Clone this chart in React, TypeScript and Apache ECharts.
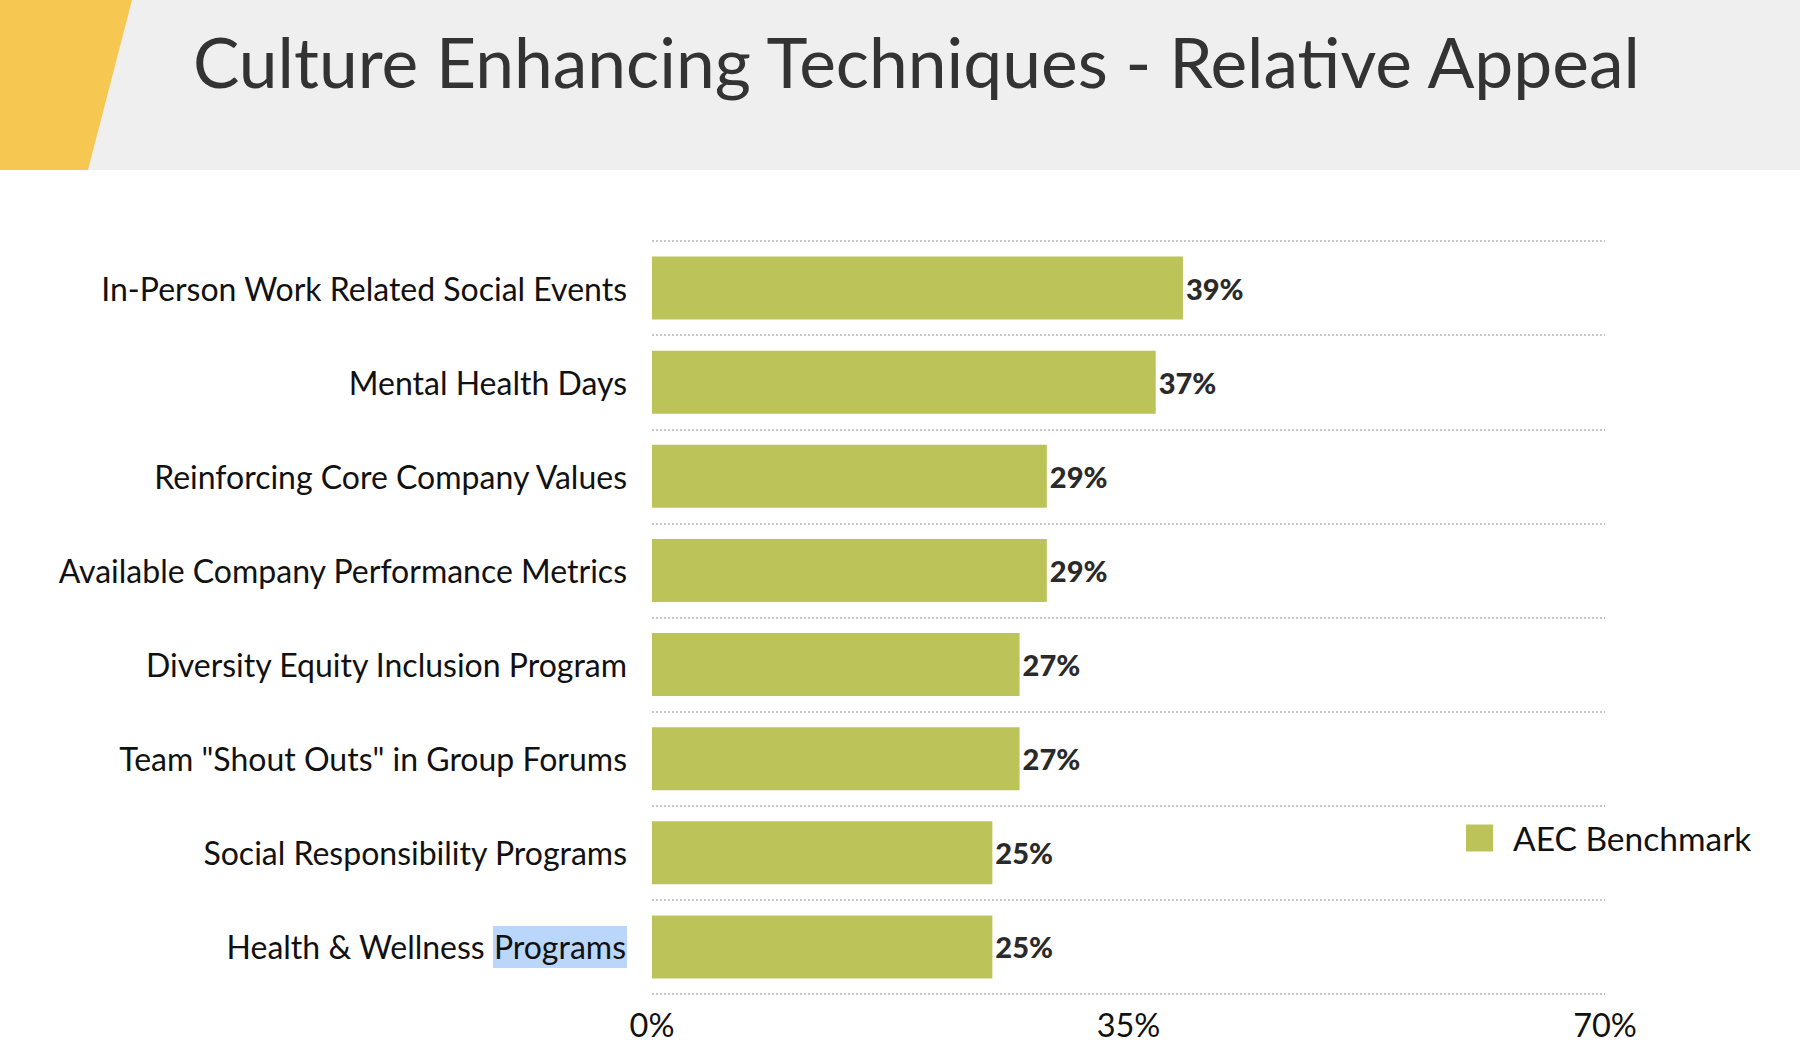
import React, { useEffect, useRef } from "react";
import * as echarts from "echarts";

const categories = [
  "In-Person Work Related Social Events",
  "Mental Health Days",
  "Reinforcing Core Company Values",
  "Available Company Performance Metrics",
  "Diversity Equity Inclusion Program",
  'Team "Shout Outs" in Group Forums',
  "Social Responsibility Programs",
  "Health & Wellness Programs",
];
const benchmarkValues = [39, 37, 29, 29, 27, 27, 25, 25];
const seriesName = "AEC Benchmark";
const titleText = "Culture Enhancing Techniques - Relative Appeal";
const axisMin = 0;
const axisMax = 70;
const axisInterval = 35;

const FONT = "Lato, 'Open Sans', sans-serif";

export default function App() {
  const ref = useRef<HTMLDivElement>(null);
  useEffect(() => {
    document.body.style.margin = "0";
    if (!ref.current) return;
    const chart = echarts.init(ref.current, null, { renderer: "svg" });
    chart.setOption({
      animation: false,
      backgroundColor: "#ffffff",
      textStyle: { fontFamily: FONT },
      graphic: [
        {
          type: "rect",
          shape: { x: 0, y: 0, width: 1800, height: 170 },
          style: { fill: "#efefef" },
          z: 0,
        },
        {
          type: "polygon",
          shape: { points: [[0, 0], [132, 0], [88, 170], [0, 170]] },
          style: { fill: "#f6c852" },
          z: 1,
        },
        {
          type: "text",
          x: 193,
          y: 61,
          style: {
            text: titleText,
            fontSize: 69.5,
            fontFamily: FONT,
            fill: "#333333",
            verticalAlign: "middle",
            align: "left",
          },
          z: 2,
        },
      ],
      legend: {
        data: [seriesName],
        left: 1461,
        top: 816,
        icon: "rect",
        itemWidth: 27,
        itemHeight: 27,
        itemGap: 20,
        textStyle: { fontSize: 33.5, color: "#111111", fontFamily: FONT, padding: [0, 0, 0, 15] },
      },
      grid: { left: 652, right: 195, top: 241, bottom: 52, containLabel: false },
      xAxis: {
        type: "value",
        min: axisMin,
        max: axisMax,
        interval: axisInterval,
        axisLine: { show: false },
        axisTick: { show: false },
        splitLine: { show: false },
        axisLabel: {
          formatter: "{value}%",
          fontSize: 32.5,
          color: "#111111",
          fontFamily: FONT,
          margin: 14,
        },
      },
      yAxis: {
        type: "category",
        data: categories,
        inverse: true,
        axisLine: { show: false },
        axisTick: { show: false },
        splitLine: {
          show: true,
          interval: 0,
          lineStyle: { color: "#b5b5b5", type: [2, 2], width: 1.5 },
        },
        axisLabel: {
          fontSize: 32,
          color: "#111111",
          fontFamily: FONT,
          margin: 25,
          formatter: (v: string) =>
            v === "Health & Wellness Programs" ? "Health & Wellness {hl|Programs}" : v,
          rich: {
            hl: {
              fontSize: 32,
              color: "#111111",
              fontFamily: FONT,
              backgroundColor: "#bad7fb",
              padding: [5, 1, 5, 1],
            },
          },
        },
      },
      series: [
        {
          name: seriesName,
          type: "bar",
          data: benchmarkValues,
          barWidth: 63,
          itemStyle: { color: "#bcc459" },
          label: {
            show: true,
            position: "right",
            distance: 3,
            formatter: "{c}%",
            fontSize: 29,
            fontWeight: 900,
            color: "#2a2a2a",
            fontFamily: FONT,
          },
        },
      ],
    });
    return () => chart.dispose();
  }, []);
  return <div ref={ref} style={{ width: 1800, height: 1046 }} />;
}
